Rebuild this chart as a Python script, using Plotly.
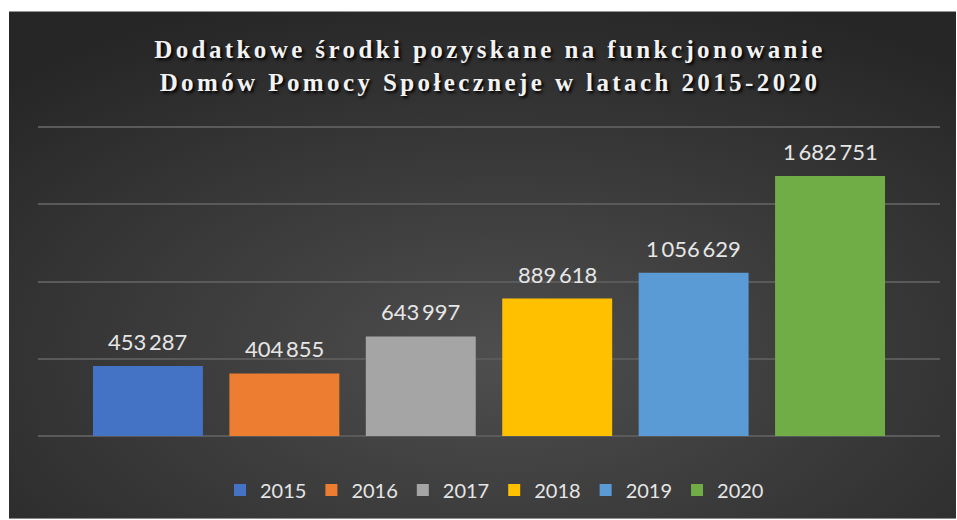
import base64
import plotly.graph_objects as go

years = ["2015", "2016", "2017", "2018", "2019", "2020"]
values = [453287, 404855, 643997, 889618, 1056629, 1682751]
colors = ["#4472C4", "#ED7D31", "#A5A5A5", "#FFC000", "#5B9BD5", "#70AD47"]
title_lines = ["Dodatkowe środki pozyskane na funkcjonowanie",
               "Domów Pomocy Społeczneje w latach 2015-2020"]

def fmt(v):
    return f"{v:,}".replace(",", "\u2009")

svg = ('<svg xmlns="http://www.w3.org/2000/svg" width="947" height="509" preserveAspectRatio="none">'
       '<defs><radialGradient id="g" cx="52%" cy="68%" r="75%" fx="52%" fy="68%">'
       '<stop offset="0%" stop-color="#4e4e4e"/><stop offset="100%" stop-color="#262626"/>'
       '</radialGradient></defs><rect width="947" height="509" fill="url(#g)"/></svg>')
bg_uri = "data:image/svg+xml;base64," + base64.b64encode(svg.encode()).decode()

fig = go.Figure()
for y, v, c in zip(years, values, colors):
    fig.add_trace(go.Bar(
        x=[y], y=[v], name=y, marker=dict(color=c, line=dict(width=0)),
        width=0.806, hoverinfo="skip"))

annotations = [dict(x=i, y=v, xref="x", yref="y", text=fmt(v), showarrow=False,
                    yanchor="bottom", yshift=9,
                    font=dict(family="Lato", size=22, color="#e6e6e6"))
               for i, v in enumerate(values)]

W, H = 957, 520
y0, y1 = -20000, 2020000
px_per = 155 / 1e6
T = int(round(127 - (y1 - 2e6) * px_per))
B = int(round(520 - 437 - (0 - y0) * px_per))
L, R = 38, 17
pw, ph = W - L - R, H - T - B
ybot_px = 520 - B

fig.update_layout(
    width=W, height=H,
    margin=dict(l=L, r=R, t=T, b=B, pad=0),
    paper_bgcolor="white", plot_bgcolor="rgba(0,0,0,0)",
    barmode="overlay",
    showlegend=True,
    annotations=annotations,
    legend=dict(orientation="h", x=(494.5 - L) / pw, xanchor="center",
                y=(ybot_px - 490) / ph, yanchor="middle",
                font=dict(family="Lato", size=20, color="#e6e6e6"), itemwidth=30,
                bgcolor="rgba(0,0,0,0)", traceorder="normal"),
    title=dict(text="<br>".join(title_lines), x=490 / W, xanchor="center",
               y=1 - 58 / H, yanchor="middle",
               font=dict(family="Liberation Serif", size=25, color="#f2f2f2", weight="bold",
                         shadow="2px 2px 3px #000000")),
    xaxis=dict(type="category", range=[-0.806, 5.806], showticklabels=False, showgrid=False,
               zeroline=False, showline=False, ticks=""),
    yaxis=dict(range=[y0, y1], tickvals=[0, 500000, 1000000, 1500000, 2000000],
               showticklabels=False, showgrid=True,
               gridcolor="#5a5a5a", gridwidth=1.5, zeroline=False, showline=False, ticks=""),
    images=[dict(source=bg_uri, xref="paper", yref="paper",
                 x=(9 - L) / pw, y=(ybot_px - 11) / ph, sizex=947 / pw, sizey=509 / ph,
                 xanchor="left", yanchor="top", sizing="stretch", layer="below")],
)

post = ("document.body.style.margin='0';"
        "document.querySelectorAll('.gtitle').forEach(function(e){e.style.letterSpacing='3.4px';});")
fig.write_html("out.html", post_script=post, config={"displayModeBar": False})
